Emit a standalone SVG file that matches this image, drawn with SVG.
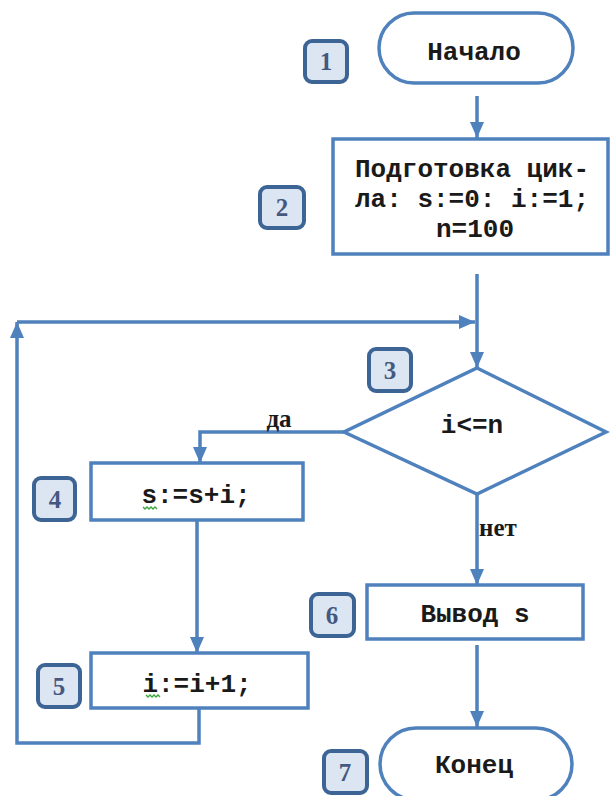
<svg xmlns="http://www.w3.org/2000/svg" width="614" height="796" viewBox="0 0 614 796">
<style>
.shape{fill:#ffffff;stroke:#4f81bd;stroke-width:3.5}
.badge{fill:#dce6f2;stroke:#3c6494;stroke-width:4}
.num{font-family:"Liberation Serif",serif;font-size:25px;font-weight:bold;fill:#45587f;text-anchor:middle}
.t{font-family:"Liberation Mono",monospace;font-size:26px;font-weight:bold;fill:#1a1a1a;text-anchor:middle}
.lbl{font-family:"Liberation Serif",serif;font-size:25px;font-weight:bold;fill:#1a1a1a;text-anchor:middle}
.wire{fill:none;stroke:#4f81bd;stroke-width:3.5}
.sq{fill:none;stroke:#3aa53a;stroke-width:1.3}
</style>
<defs>
<marker id="ah" viewBox="0 0 16 14" refX="16" refY="7" markerWidth="16" markerHeight="14" markerUnits="userSpaceOnUse" orient="auto">
<path d="M0,0 L16,7 L0,14 Z" fill="#4f81bd"/>
</marker>
</defs>
<g id="connectors">
<line class="wire" x1="477" y1="96" x2="477" y2="138" marker-end="url(#ah)"/>
<line class="wire" x1="477" y1="274" x2="477" y2="368" marker-end="url(#ah)"/>
<polyline class="wire" points="199,708 199,743 17,743 17,322" marker-end="url(#ah)"/>
<line class="wire" x1="17" y1="322" x2="475" y2="322" marker-end="url(#ah)"/>
<polyline class="wire" points="344,432 200,432 200,463" marker-end="url(#ah)"/>
<text class="lbl" x="279" y="427">да</text>
<line class="wire" x1="477" y1="494" x2="477" y2="585" marker-end="url(#ah)"/>
<text class="lbl" x="498" y="536">нет</text>
<line class="wire" x1="197" y1="521" x2="197" y2="653" marker-end="url(#ah)"/>
<line class="wire" x1="477" y1="645" x2="477" y2="727" marker-end="url(#ah)"/>
</g>
<g id="n1">
<rect class="shape" x="379" y="13" width="194" height="70" rx="35"/>
<text class="t" x="474" y="60">Начало</text>
</g>
<g id="b1"><rect class="badge" x="305" y="41" width="42" height="41" rx="7"/><text class="num" x="326" y="70">1</text></g>
<g id="n2">
<rect class="shape" x="333" y="139" width="275" height="115"/>
<text class="t" x="472" y="177">Подготовка цик-</text>
<text class="t" x="472" y="207">ла: s:=0: i:=1;</text>
<text class="t" x="475" y="237">n=100</text>
</g>
<g id="b2"><rect class="badge" x="260" y="187" width="44" height="41" rx="7"/><text class="num" x="282" y="216">2</text></g>
<g id="n3">
<polygon class="shape" points="477,368 606,432 477,494 344,432"/>
<text class="t" x="472" y="433">i&lt;=n</text>
</g>
<g id="b3"><rect class="badge" x="369" y="349" width="42" height="42" rx="7"/><text class="num" x="390" y="379">3</text></g>
<g id="n4">
<rect class="shape" x="91" y="463" width="212" height="57"/>
<text class="t" x="196" y="503">s:=s+i;</text>
<path class="sq" d="M143,507 l2,2 l2,-2 l2,2 l2,-2 l2,2 l2,-2 l2,2"/>
</g>
<g id="b4"><rect class="badge" x="34" y="478" width="41" height="42" rx="7"/><text class="num" x="55" y="508">4</text></g>
<g id="n5">
<rect class="shape" x="91" y="653" width="217" height="55"/>
<text class="t" x="197" y="692">i:=i+1;</text>
<path class="sq" d="M146,695 l2,2 l2,-2 l2,2 l2,-2 l2,2 l2,-2 l2,2"/>
</g>
<g id="b5"><rect class="badge" x="38" y="665" width="42" height="42" rx="7"/><text class="num" x="59" y="695">5</text></g>
<g id="n6">
<rect class="shape" x="367" y="585" width="216" height="54"/>
<text class="t" x="475" y="622">Вывод s</text>
</g>
<g id="b6"><rect class="badge" x="311" y="594" width="43" height="42" rx="7"/><text class="num" x="332" y="624">6</text></g>
<g id="n7">
<rect class="shape" x="380" y="728" width="192" height="72" rx="36"/>
<text class="t" x="474" y="773">Конец</text>
</g>
<g id="b7"><rect class="badge" x="324" y="751" width="43" height="42" rx="7"/><text class="num" x="345" y="781">7</text></g>
</svg>
